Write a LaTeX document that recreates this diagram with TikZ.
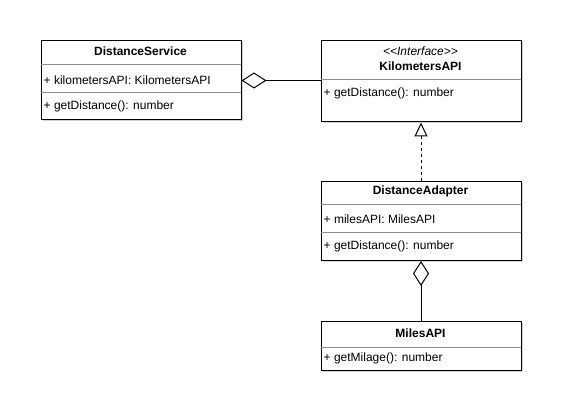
\documentclass[tikz,border=0pt]{standalone}
\usepackage{fontspec}
\setmainfont{Liberation Sans}
\usetikzlibrary{shadows,arrows.meta}
\begin{document}
\begin{tikzpicture}[x=1pt,y=-1pt,
  classbox/.style={draw=black, line width=1pt, fill=white, inner sep=0pt,
    anchor=north west, minimum width=200pt,
    drop shadow={shadow xshift=1.5pt, shadow yshift=-1.5pt, opacity=0.18, fill=black}},
  divider/.style={draw=black!45, line width=0.8pt},
  title/.style={font=\bfseries\fontsize{12}{14}\selectfont, inner sep=0pt},
  stereo/.style={font=\itshape\fontsize{12}{14}\selectfont, inner sep=0pt},
  member/.style={font=\fontsize{12}{14}\selectfont, inner sep=0pt, anchor=west},
  link/.style={draw=black, line width=1pt},
  aggregation/.style={link, -{Diamond[open, length=25pt, width=16pt]}},
  realization/.style={link, dash pattern=on 3pt off 3pt,
    -{Triangle[open, length=14pt, width=13pt]}}]
\useasboundingbox[fill=white] (0,0) rectangle (568,417);

% DistanceService
\node[classbox, minimum height=79pt] (ds) at (40.5,40.5) {};
\draw[divider] (40.5,64) -- (240.5,64);
\draw[divider] (40.5,92) -- (240.5,92);
\node[title] (dsT) at (140.5,51) {DistanceService};
\node[member] (dsA) at (43.5,80) {+ kilometersAPI: KilometersAPI};
\node[member] (dsM) at (43.5,106) {+ getDistance(): number};

% KilometersAPI
\node[classbox, minimum height=81pt] (ka) at (320.5,40.5) {};
\draw[divider] (320.5,79.5) -- (520.5,79.5);
\node[stereo] (kaS) at (420.5,51.5) {{<}{<}Interface{>}{>}};
\node[title] (kaT) at (420.5,66) {KilometersAPI};
\node[member] (kaM) at (323.5,93) {+ getDistance(): number};

% DistanceAdapter
\node[classbox, minimum height=79pt] (da) at (320.5,181) {};
\draw[divider] (320.5,204.5) -- (520.5,204.5);
\draw[divider] (320.5,232.5) -- (520.5,232.5);
\node[title] (daT) at (420.5,191) {DistanceAdapter};
\node[member] (daA) at (323.5,219) {+ milesAPI: MilesAPI};
\node[member] (daM) at (323.5,246) {+ getDistance(): number};

% MilesAPI
\node[classbox, minimum height=48.5pt] (ma) at (320.5,321) {};
\draw[divider] (320.5,347.5) -- (520.5,347.5);
\node[title] (maT) at (420.5,333) {MilesAPI};
\node[member] (maM) at (323.5,358) {+ getMilage(): number};

% relations
\draw[aggregation] (ka.west |- 0,80.5) -- (ds.east |- 0,80.5);
\draw[realization] (da.north) -- (ka.south);
\draw[aggregation] (ma.north) -- (da.south);
\end{tikzpicture}
\end{document}
